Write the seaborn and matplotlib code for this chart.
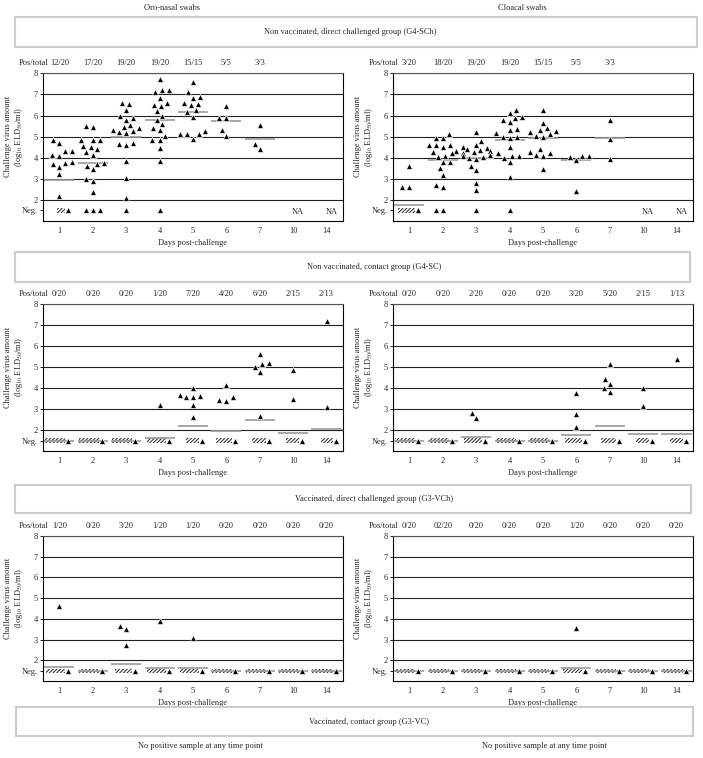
import numpy as np
import pandas as pd
import matplotlib
matplotlib.use("Agg")
import matplotlib.pyplot as plt
import matplotlib.transforms as mtransforms
from matplotlib.patches import Rectangle
import seaborn as sns

# ---------------- data ----------------
days = ["1", "2", "3", "4", "5", "6", "7", "10", "14"]
NEG = 1.5

# Non vaccinated, direct challenged group (G4-SCh)
sch_totals = [20, 20, 20, 20, 15, 5, 3, None, None]
sch_oro_values = [
    [4.85, 4.68, 4.3, 4.3, 4.15, 4.1, 3.8, 3.75, 3.7, 3.55, 3.22, 2.17],
    [5.5, 5.45, 4.85, 4.85, 4.85, 4.55, 4.5, 4.4, 4.25, 4.15, 3.75, 3.7, 3.63, 3.45, 3.0, 2.9, 2.37],
    [6.6, 6.55, 6.25, 6.0, 5.9, 5.8, 5.55, 5.45, 5.4, 5.3, 5.25, 5.2, 5.15, 4.7, 4.65, 4.6, 3.85, 3.05, 2.08],
    [7.75, 7.2, 7.2, 7.1, 6.85, 6.6, 6.5, 6.45, 6.2, 6.0, 5.8, 5.6, 5.4, 5.3, 5.05, 4.85, 4.85, 4.45, 3.85],
    [7.6, 7.1, 6.9, 6.85, 6.6, 6.55, 6.5, 6.25, 6.15, 5.95, 5.25, 5.1, 5.1, 5.1, 4.9],
    [6.45, 5.9, 5.9, 5.3, 5.05],
    [5.55, 4.65, 4.4],
    [],
    [],
]
sch_oro_means = [2.95, 3.77, 5.0, 5.8, 6.15, 5.75, 4.9, None, None]
sch_oro_labels = ["12/20", "17/20", "19/20", "19/20", "15/15", "5/5", "3/3", "", ""]

sch_clo_values = [
    [3.6, 2.6, 2.6],
    [5.1, 4.95, 4.95, 4.6, 4.6, 4.6, 4.5, 4.3, 4.25, 4.2, 4.1, 4.05, 3.8, 3.8, 3.5, 3.2, 2.7, 2.6],
    [5.2, 4.8, 4.6, 4.5, 4.45, 4.4, 4.35, 4.3, 4.25, 4.2, 4.15, 4.1, 4.05, 4.0, 3.95, 3.6, 3.4, 2.8, 2.45],
    [6.25, 6.1, 5.95, 5.9, 5.8, 5.7, 5.35, 5.3, 5.15, 5.0, 5.0, 4.95, 4.5, 4.2, 4.1, 4.1, 4.0, 3.8, 3.1],
    [6.25, 5.65, 5.4, 5.3, 5.25, 5.2, 5.1, 5.05, 5.0, 4.4, 4.25, 4.2, 4.15, 4.1, 3.45],
    [4.1, 4.1, 4.05, 3.9, 2.4],
    [5.8, 4.9, 3.95],
    [],
    [],
]
sch_clo_means = [1.75, 3.87, 3.97, 4.83, 4.92, 3.87, 4.95, None, None]
sch_clo_labels = ["3/20", "18/20", "19/20", "19/20", "15/15", "5/5", "3/3", "", ""]

# Non vaccinated, contact group (G4-SC)
sc_totals = [20, 20, 20, 20, 20, 20, 20, 15, 13]
sc_oro_values = [[], [], [], [3.2], [4.0, 3.65, 3.6, 3.55, 3.55, 3.2, 2.6],
                 [4.15, 3.55, 3.45, 3.4], [5.6, 5.2, 5.15, 5.0, 4.75, 2.65], [4.85, 3.5], [7.2, 3.1]]
sc_oro_means = [1.5, 1.5, 1.5, 1.6, 2.2, 1.93, 2.48, 1.85, 2.05]
sc_oro_labels = ["0/20", "0/20", "0/20", "1/20", "7/20", "4/20", "6/20", "2/15", "2/13"]

sc_clo_values = [[], [], [2.8, 2.55], [], [], [3.75, 2.75, 2.15],
                 [5.15, 4.45, 4.2, 4.0, 3.8], [4.0, 3.15], [5.4]]
sc_clo_means = [1.5, 1.5, 1.65, 1.5, 1.5, 1.75, 2.2, 1.8, 1.83]
sc_clo_labels = ["0/20", "0/20", "2/20", "0/20", "0/20", "3/20", "5/20", "2/15", "1/13"]

# Vaccinated, direct challenged group (G3-VCh)
vch_totals = [20, 20, 20, 20, 20, 20, 20, 20, 20]
vch_oro_values = [[4.6], [], [3.65, 3.5, 2.75], [3.9], [3.1], [], [], [], []]
vch_oro_means = [1.7, 1.5, 1.8, 1.65, 1.65, 1.5, 1.5, 1.5, 1.5]
vch_oro_labels = ["1/20", "0/20", "3/20", "1/20", "1/20", "0/20", "0/20", "0/20", "0/20"]

vch_clo_values = [[], [], [], [], [], [3.55], [], [], []]
vch_clo_means = [1.5, 1.5, 1.5, 1.5, 1.5, 1.62, 1.5, 1.5, 1.5]
vch_clo_labels = ["0/20", "02/20", "0/20", "0/20", "0/20", "1/20", "0/20", "0/20", "0/20"]

# ---------------- style ----------------
sns.set_theme(style="white")
plt.rcParams["font.family"] = ["Liberation Serif", "DejaVu Serif"]
plt.rcParams["mathtext.fontset"] = "stix"
plt.rcParams["hatch.linewidth"] = 0.7
FS = 6

W, H = 703, 758
fig = plt.figure(figsize=(W / 100, H / 100), dpi=100)


def fx(px):
    return px / W


def fy(py):
    return 1 - py / H


def draw_panel(ax, values, totals, means, labels, na=False):
    rows = []
    hatch_days = []
    for i, (vals, tot) in enumerate(zip(values, totals)):
        if tot is None:
            continue
        for v in vals:
            rows.append((float(i), v))
        n_neg = tot - len(vals)
        if n_neg > 3:
            hatch_days.append((i, n_neg))
        else:
            rows += [(float(i), NEG)] * n_neg
    df = pd.DataFrame(rows, columns=["pos", "value"])
    # grid lines
    ax.hlines([2, 3, 4, 5, 6, 7, 8], -0.5, 8.5, color="#222222", lw=0.8, zorder=1)
    if len(df):
        sns.swarmplot(data=df, x="pos", y="value", native_scale=True, orient="x",
                      ax=ax, marker="^", color="black", size=4.4,
                      edgecolor="white", linewidth=0.5, zorder=4,
                      warn_thresh=1.0)
    # negative hatch + triangle
    for i, n in hatch_days:
        w = 0.03 * n
        ax.add_patch(Rectangle((i + 0.18 - w, NEG - 0.1), w, 0.2, hatch="/////////",
                               fill=False, linewidth=0, edgecolor="#222222", zorder=2))
    if hatch_days:
        sns.scatterplot(x=[i + 0.27 for i, _ in hatch_days], y=[NEG] * len(hatch_days),
                        ax=ax, marker="^", color="black", s=20, edgecolor="white",
                        linewidth=0.5, zorder=5, legend=False)
    # mean lines
    for i, m in enumerate(means):
        if m is not None:
            ax.hlines(m, i - 0.45, i + 0.45, color="#9a9a9a", lw=1.2, zorder=3)
    if na:
        for i, tot in enumerate(totals):
            if tot is None:
                ax.text(i + 0.15, NEG - 0.05, "NA", ha="center", va="center", fontsize=FS)
    ax.set_xlim(-0.5, 8.5)
    ax.set_ylim(1, 8)
    ax.set_xticks(range(len(days)))
    ax.set_xticklabels(days, fontsize=FS)
    ax.set_yticks([NEG, 2, 3, 4, 5, 6, 7, 8])
    ax.set_yticklabels(["Neg.", "2", "3", "4", "5", "6", "7", "8"], fontsize=FS)
    ax.tick_params(axis="y", length=2, width=0.6, pad=1.5, left=True, color="black")
    ax.tick_params(axis="x", length=0, pad=4)
    ax.set_xlabel("Days post-challenge", fontsize=FS, labelpad=3)
    ax.set_ylabel("Challenge virus amount\n(log$_{10}$ ELD$_{50}$/ml)", fontsize=FS,
                  linespacing=1.1)
    ax.yaxis.set_label_coords(-0.059, 0.57)
    for s in ["left", "bottom", "right"]:
        ax.spines[s].set_visible(True)
        ax.spines[s].set_color("black")
        ax.spines[s].set_linewidth(0.8)
    ax.spines["top"].set_color("#555555")
    ax.spines["top"].set_linewidth(0.8)
    trans = mtransforms.blended_transform_factory(ax.transData, ax.transAxes)
    ax.text(-0.32, 1.068, "Pos/total", transform=trans, ha="right", va="center", fontsize=FS)
    for i, lab in enumerate(labels):
        if lab:
            ax.text(i, 1.068, lab, transform=trans, ha="center", va="center", fontsize=FS)
    ax.set_facecolor("white")


rows_geom = [(221, 147.7), (451, 147.0), (681, 145.0)]
lefts = [42.7, 392.7]
pw = 300.5

panels = [
    (sch_oro_values, sch_totals, sch_oro_means, sch_oro_labels, True),
    (sch_clo_values, sch_totals, sch_clo_means, sch_clo_labels, True),
    (sc_oro_values, sc_totals, sc_oro_means, sc_oro_labels, False),
    (sc_clo_values, sc_totals, sc_clo_means, sc_clo_labels, False),
    (vch_oro_values, vch_totals, vch_oro_means, vch_oro_labels, False),
    (vch_clo_values, vch_totals, vch_clo_means, vch_clo_labels, False),
]

for k, (vals, tots, means, labs, na) in enumerate(panels):
    r, c = divmod(k, 2)
    bot, h = rows_geom[r]
    ax = fig.add_axes([fx(lefts[c]), fy(bot), pw / W, h / H])
    draw_panel(ax, vals, tots, means, labs, na)

# column titles
fig.text(fx(172), fy(8), "Oro-nasal swabs", ha="center", va="center", fontsize=FS)
fig.text(fx(522), fy(8), "Cloacal swabs", ha="center", va="center", fontsize=FS)

# group boxes
boxes = [
    (15, 17, 697, 47, 350, "Non vaccinated, direct challenged group (G4-SCh)"),
    (15, 252, 690, 282, 374, "Non vaccinated, contact group (G4-SC)"),
    (15, 485, 691, 513, 374, "Vaccinated, direct challenged group (G3-VCh)"),
    (16, 707, 693, 736, 369, "Vaccinated, contact group (G3-VC)"),
]
for x0, y0, x1, y1, xc, txt in boxes:
    fig.add_artist(Rectangle((fx(x0), fy(y1)), (x1 - x0) / W, (y1 - y0) / H,
                             transform=fig.transFigure, fill=False,
                             edgecolor="#cccccc", lw=1.5))
    fig.text(fx(xc), fy((y0 + y1) / 2), txt, ha="center", va="center", fontsize=FS)

fig.text(fx(200), fy(746), "No positive sample at any time point", ha="center", va="center", fontsize=FS)
fig.text(fx(544), fy(746), "No positive sample at any time point", ha="center", va="center", fontsize=FS)

fig.savefig("out.png", dpi=100, facecolor="white")
